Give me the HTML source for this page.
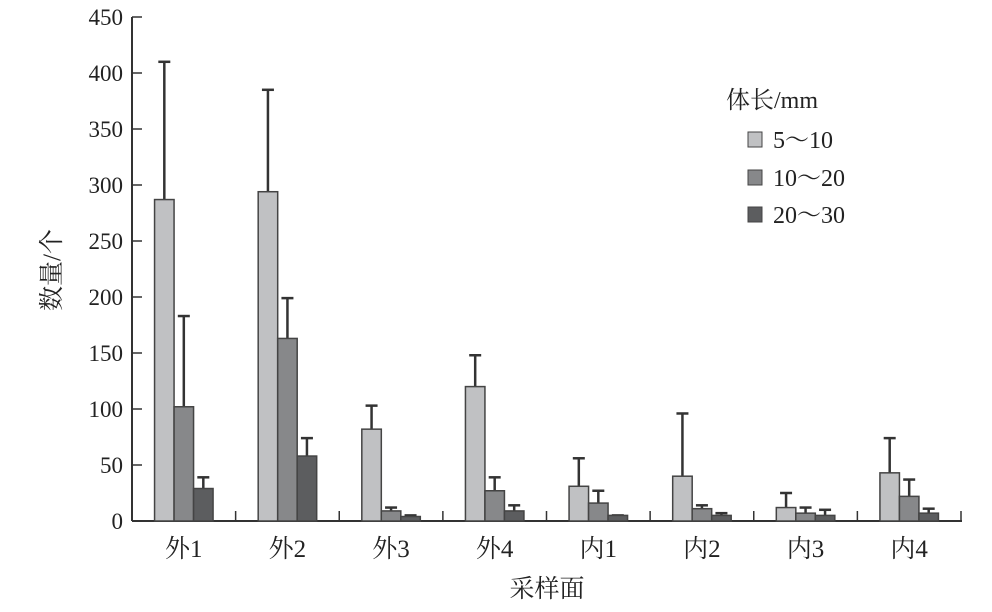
<!DOCTYPE html>
<html><head><meta charset="utf-8"><style>
html,body{margin:0;padding:0;background:#fff;}
svg text{font-family:"Liberation Serif","Noto Serif CJK SC",serif;fill:#222;}
</style></head><body>
<svg id="chart" width="992" height="607" xmlns="http://www.w3.org/2000/svg">
<g id="axes"></g><g id="bars"></g>
<g>
<text x="726" y="108" font-size="24">体长/mm</text>
<rect x="748" y="132" width="14" height="15" fill="#c0c1c3" stroke="#444"/>
<text x="773" y="148" font-size="24">5～10</text>
<rect x="748" y="170" width="14" height="15" fill="#87888a" stroke="#444"/>
<text x="773" y="186" font-size="24">10～20</text>
<rect x="748" y="207" width="14" height="15" fill="#5c5d5f" stroke="#444"/>
<text x="773" y="223" font-size="24">20～30</text>
</g>
<text x="547" y="597" font-size="25" text-anchor="middle">采样面</text>
<text transform="translate(60,270) rotate(-90)" font-size="25" text-anchor="middle">数量/个</text>
</svg>
<script>
const categories=["外1","外2","外3","外4","内1","内2","内3","内4"];
const s1=[287,294,82,120,31,40,12,43];
const s2=[102,163,9,27,16,11,7,22];
const s3=[29,58,4,9,5,5,5,7];
const e1=[410,385,103,148,56,96,25,74];
const e2=[183,199,12,39,27,14,12,37];
const e3=[39,74,5,14,5,7,10,11];
const yTicks=[0,50,100,150,200,250,300,350,400,450];
const NS="http://www.w3.org/2000/svg";
const x0=132,x1=961,yBase=521,yTop=17,yMax=450;
const catW=(x1-x0)/categories.length;
function y(v){return yBase-(v/yMax)*(yBase-yTop);}
function xc(i){return x0+catW*(i+0.5);}
function mk(tag,attrs,parent){const e=document.createElementNS(NS,tag);for(const k in attrs)e.setAttribute(k,attrs[k]);parent.appendChild(e);return e;}
const axes=document.getElementById('axes'),bars=document.getElementById('bars');
let a=mk('line',{x1:x0,y1:yTop,x2:x0,y2:yBase,stroke:'#333','stroke-width':2},axes);


a=mk('line',{x1:x0,y1:yBase,x2:x1+1,y2:yBase,stroke:'#333','stroke-width':2},axes);


yTicks.forEach(t=>{
 const l=mk('line',{x1:x0,y1:y(t),x2:x0+10,y2:y(t),stroke:'#333','stroke-width':1.5},axes);
 
 
 const tx=mk('text',{x:x0-9,y:y(t)+8,'font-size':23,'text-anchor':'end'},axes);
 tx.textContent=t;
 
 
});
categories.forEach((c,i)=>{
 const xt=x0+catW*(i+1);
 const l=mk('line',{x1:xt,y1:yBase,x2:xt,y2:yBase-10,stroke:'#333','stroke-width':1.5},axes);
 
 
 const tx=mk('text',{x:xc(i),y:557,'font-size':25,'text-anchor':'middle'},axes);
 tx.textContent=c;
 
 
});
const series=[[s1,e1,'#c0c1c3','5-10'],[s2,e2,'#87888a','10-20'],[s3,e3,'#5c5d5f','20-30']];
const bw=19.5;
categories.forEach((c,i)=>{
 series.forEach((s,j)=>{
  const bx=xc(i)-bw*1.5+j*bw;
  const v=s[0][i],ev=s[1][i];
  const ex=bx+bw/2;
  const el=mk('line',{x1:ex,y1:y(v),x2:ex,y2:y(ev),stroke:'#333','stroke-width':2.5},bars);
  
  
  const ec=mk('line',{x1:ex-6,y1:y(ev),x2:ex+6,y2:y(ev),stroke:'#333','stroke-width':2.5},bars);
  
  
  const r=mk('rect',{x:bx,y:y(v),width:bw,height:yBase-y(v),fill:s[2],stroke:'#444','stroke-width':1.5},bars);
  
  
 });
});
</script>
</body></html>
